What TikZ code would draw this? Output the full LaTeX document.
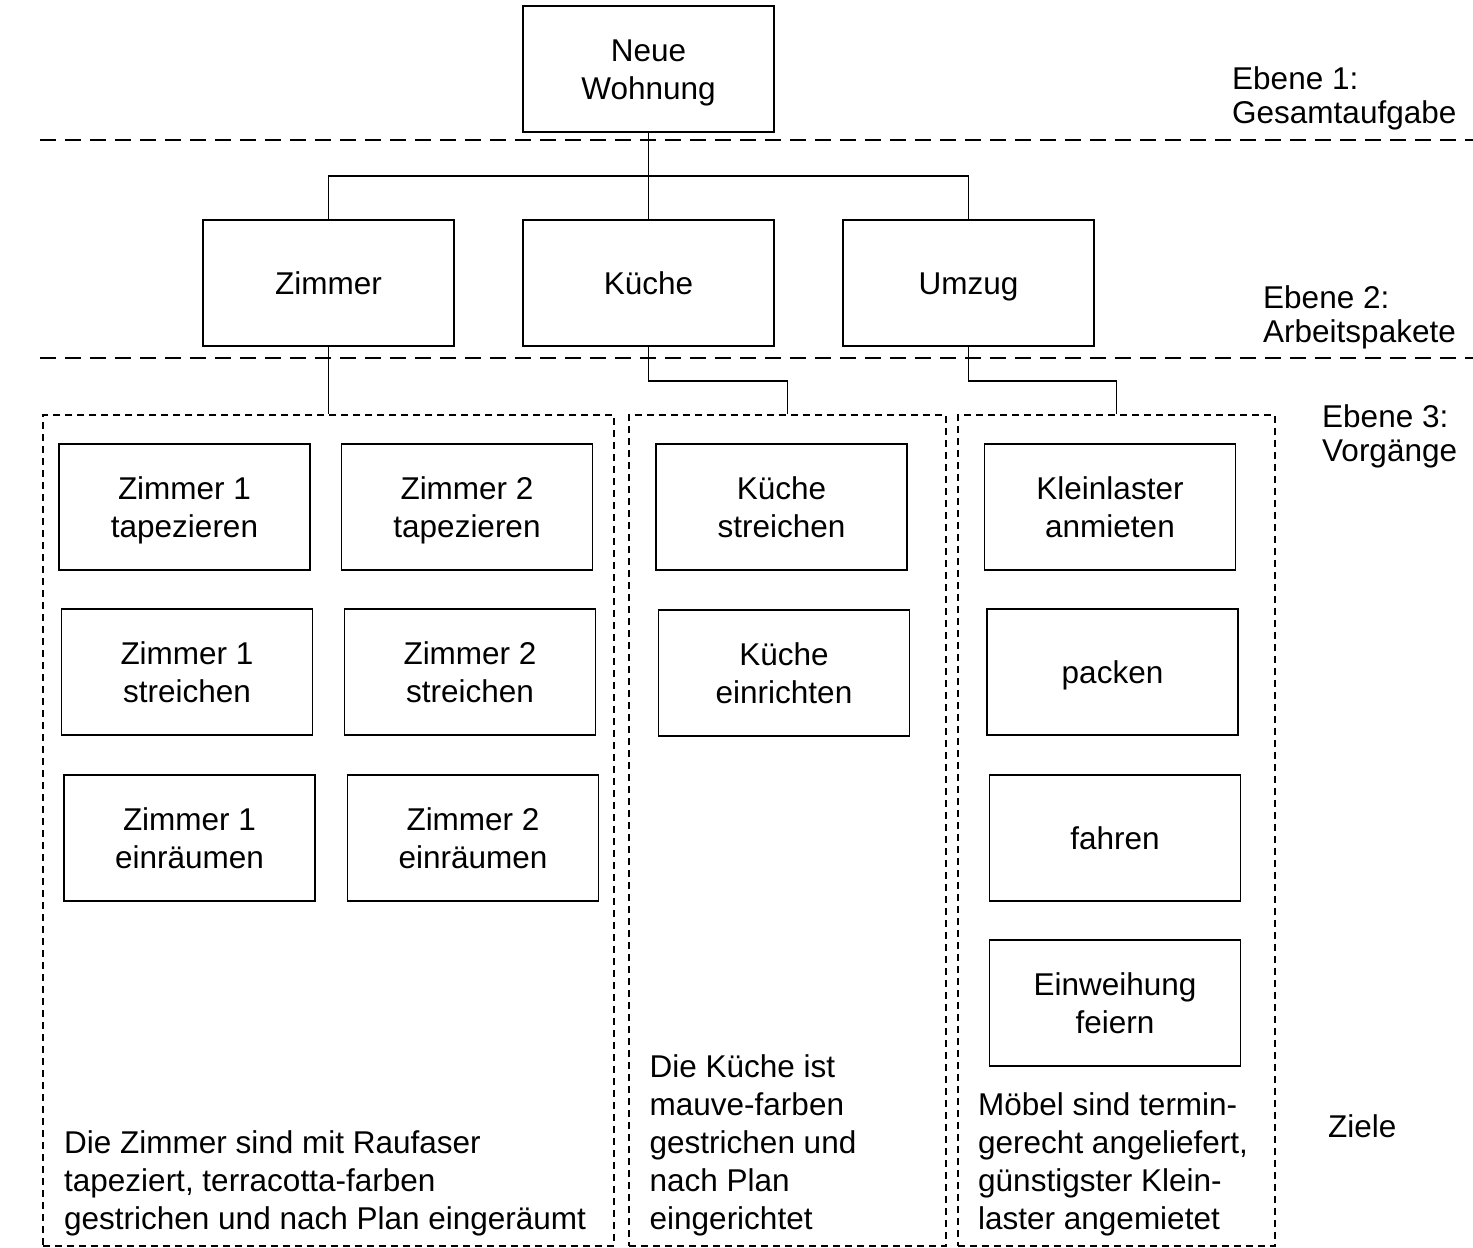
\documentclass[tikz,border=0pt]{standalone}
\usepackage{fontspec}
\setmainfont{Liberation Sans}
\newcommand{\bs}{\rule[-7.5pt]{0pt}{37.5pt}}
\begin{document}
\begin{tikzpicture}[x=1pt,y=-1pt,
  box/.style={draw, line width=1.6pt, minimum width=251pt, minimum height=126pt,
    align=center, inner sep=0pt, font=\fontsize{31.5}{38}\selectfont},
  grp/.style={draw, line width=1.3pt, dash pattern=on 7pt off 5pt, inner sep=0pt},
  conn/.style={line width=1.6pt},
  sep/.style={line width=2.2pt, dash pattern=on 16pt off 9pt},
  lbl/.style={anchor=base west, align=left, inner sep=0pt, font=\fontsize{31.5}{34}\selectfont},
  goal/.style={anchor=base west, align=left, inner sep=0pt, font=\fontsize{31.5}{38}\selectfont}]
\useasboundingbox (0,0) rectangle (1473,1248);
\fill[white] (0,0) rectangle (1473,1248);

% separators
\draw[sep] (40,140) -- (1473,140);
\draw[sep] (40,358) -- (1473,358);

% level 1
\node[box] (top) at (648.5,69) {\bs Neue\\\bs Wohnung};

% level 2
\node[box] (zim) at (328.5,283) {\bs Zimmer};
\node[box] (kue) at (648.5,283) {\bs Küche};
\node[box] (umz) at (968.5,283) {\bs Umzug};

% groups
\node[grp, minimum width=571pt, minimum height=831pt] (g1) at (328.5,830.5) {};
\node[grp, minimum width=317pt, minimum height=831pt] (g2) at (787.5,830.5) {};
\node[grp, minimum width=317pt, minimum height=831pt] (g3) at (1116.5,830.5) {};

% level 3
\node[box] (z1t) at (184.5,507) {\bs Zimmer 1\\\bs tapezieren};
\node[box] (z2t) at (467,507) {\bs Zimmer 2\\\bs tapezieren};
\node[box] (z1s) at (187,672) {\bs Zimmer 1\\\bs streichen};
\node[box] (z2s) at (470,672) {\bs Zimmer 2\\\bs streichen};
\node[box] (z1e) at (189.5,838) {\bs Zimmer 1\\\bs einräumen};
\node[box] (z2e) at (473,838) {\bs Zimmer 2\\\bs einräumen};
\node[box] (ks) at (781.5,507) {\bs Küche\\\bs streichen};
\node[box] (ke) at (784,673) {\bs Küche\\\bs einrichten};
\node[box] (kl) at (1110,507) {\bs Kleinlaster\\\bs anmieten};
\node[box] (pa) at (1112.5,672) {\bs packen};
\node[box] (fa) at (1115,838) {\bs fahren};
\node[box] (ei) at (1115,1003) {\bs Einweihung\\\bs feiern};

% connectors
\coordinate (bus) at (648.5,176);
\draw[conn] (top.south) -- (kue.north);
\draw[conn] (zim.north) |- (bus) -| (umz.north);
\draw[conn] (zim.south) -- (zim.south |- g1.north);
\draw[conn] (kue.south) -- ++(0,34) -| (g2.north);
\draw[conn] (umz.south) -- ++(0,34) -| (g3.north);

% labels (anchor = baseline of last line)
\node[lbl] (e1) at (1232,123) {Ebene 1:\\Gesamtaufgabe};
\node[lbl] (e2) at (1263,342) {Ebene 2:\\Arbeitspakete};
\node[lbl] (e3) at (1322,461) {Ebene 3:\\Vorgänge};
\node[lbl] (zl) at (1328,1137) {Ziele};

% goals
\node[goal] (t1) at (64,1229) {Die Zimmer sind mit Raufaser\\tapeziert, terracotta-farben\\gestrichen und nach Plan eingeräumt};
\node[goal] (t2) at (649.5,1229) {Die Küche ist\\mauve-farben\\gestrichen und\\nach Plan\\eingerichtet};
\node[goal] (t3) at (978,1229) {Möbel sind termin-\\gerecht angeliefert,\\günstigster Klein-\\laster angemietet};
\end{tikzpicture}
\end{document}
